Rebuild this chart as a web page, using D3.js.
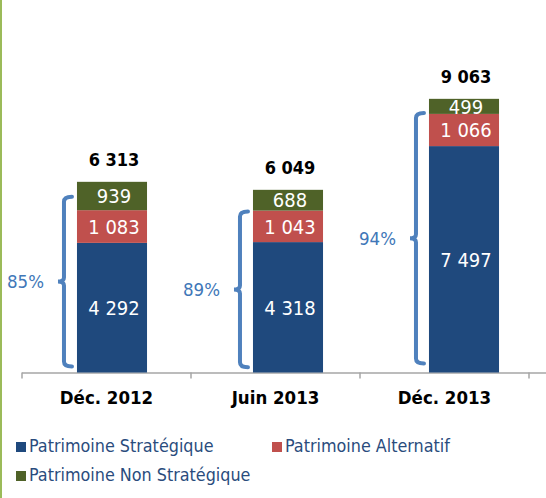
<!DOCTYPE html>
<html>
<head>
<meta charset="utf-8">
<script src="https://cdn.jsdelivr.net/npm/d3@7"></script>
<style>
  html, body { margin: 0; padding: 0; background: #ffffff; }
  svg { display: block; font-family: "DejaVu Sans Condensed", "DejaVu Sans", sans-serif; font-stretch: condensed; }
</style>
</head>
<body>
<svg id="chart" width="546" height="498"></svg>
<script>
// ---- data ----
const categories = ["Déc. 2012", "Juin 2013", "Déc. 2013"];
const strategique = [4292, 4318, 7497];
const alternatif = [1083, 1043, 1066];
const nonStrategique = [939, 688, 499];
const totals = [6313, 6049, 9063];
const percentLabels = ["85%", "89%", "94%"];
const bracketTop = [5820, 5330, 8590];
const bracketBottom = [200, 170, 300];
const seriesNames = ["Patrimoine Stratégique", "Patrimoine Alternatif", "Patrimoine Non Stratégique"];
const seriesColors = ["#1F497D", "#C0504D", "#4F6228"];

const fmt = v => d3.format(",")(v).replace(/,/g, " ");

const svg = d3.select("#chart");

// left border
svg.append("line").attr("x1", 1).attr("x2", 1).attr("y1", 0).attr("y2", 498)
  .attr("stroke", "#9BBB59").attr("stroke-width", 2);

const y = d3.scaleLinear().domain([0, 12335]).range([372.5, 0]);
const xAxisScale = d3.scaleBand().domain(categories).range([22, 529]);
const xBar = d3.scaleBand().domain(categories).range([24, 552]).paddingInner(0.602).paddingOuter(0.301);

const rows = categories.map((c, i) => ({cat: c, vals: [strategique[i], alternatif[i], nonStrategique[i]], total: totals[i], pct: percentLabels[i], bt: bracketTop[i], bb: bracketBottom[i]}));

// axis
const axisY = y(0);
svg.append("line").attr("x1", 22).attr("x2", 546).attr("y1", axisY + 0.5).attr("y2", axisY + 0.5)
  .attr("stroke", "#A6A6A6").attr("stroke-width", 1.5);
const tickPos = categories.map(c => xAxisScale(c)).concat([xAxisScale.range()[1]]);
svg.selectAll("line.tick").data(tickPos).join("line").attr("class", "tick")
  .attr("x1", d => d).attr("x2", d => d).attr("y1", axisY).attr("y2", axisY + 6)
  .attr("stroke", "#A6A6A6").attr("stroke-width", 1.5);
svg.selectAll("text.cat").data(categories).join("text").attr("class", "cat")
  .attr("x", d => xAxisScale(d) + xAxisScale.bandwidth() / 2)
  .attr("y", 404)
  .attr("text-anchor", "middle").attr("font-weight", "bold").attr("font-size", 18.5).attr("fill", "#000")
  .text(d => d);

// stacked bars
rows.forEach(r => {
  let base = 0;
  r.vals.forEach((v, k) => {
    const y0 = y(base), y1 = y(base + v);
    svg.append("rect").attr("x", xBar(r.cat)).attr("width", xBar.bandwidth())
      .attr("y", y1).attr("height", y0 - y1).attr("fill", seriesColors[k]);
    svg.append("text").attr("x", xBar(r.cat) + xBar.bandwidth() / 2 + 2)
      .attr("y", (y0 + y1) / 2).attr("dy", "0.36em")
      .attr("text-anchor", "middle").attr("font-size", 20).attr("fill", "#fff")
      .text(fmt(v));
    base += v;
  });
  svg.append("text").attr("x", xBar(r.cat) + xBar.bandwidth() / 2 + 2)
    .attr("y", y(r.total) - 16)
    .attr("text-anchor", "middle").attr("font-weight", "bold").attr("font-size", 18).attr("fill", "#000")
    .text(fmt(r.total));

  // bracket
  const xv = xBar(r.cat) - 13;
  const top = y(r.bt), bot = y(r.bb), mid = (top + bot) / 2;
  const p = d3.path();
  p.moveTo(xv + 8, top);
  p.quadraticCurveTo(xv, top, xv, top + 5);
  p.lineTo(xv, mid - 4);
  p.quadraticCurveTo(xv, mid, xv - 6, mid);
  p.quadraticCurveTo(xv, mid, xv, mid + 4);
  p.lineTo(xv, bot - 5);
  p.quadraticCurveTo(xv, bot, xv + 8, bot);
  svg.append("path").attr("d", p.toString()).attr("fill", "none")
    .attr("stroke", "#4F81BD").attr("stroke-width", 4).attr("stroke-linecap", "round");
  svg.append("text").attr("x", xv - 20).attr("y", mid).attr("dy", "0.36em")
    .attr("text-anchor", "end").attr("font-size", 18.5).attr("fill", "#4077B8")
    .text(r.pct);
});

// legend
const legendPos = [[16, 442], [272, 442], [16, 471]];
seriesNames.forEach((n, k) => {
  const [lx, ly] = legendPos[k];
  svg.append("rect").attr("x", lx).attr("y", ly).attr("width", 10).attr("height", 10).attr("fill", seriesColors[k]);
  svg.append("text").attr("x", lx + 13).attr("y", ly + 10).attr("font-size", 17.8).attr("fill", "#2A4C7D").text(n);
});
</script>
</body>
</html>
